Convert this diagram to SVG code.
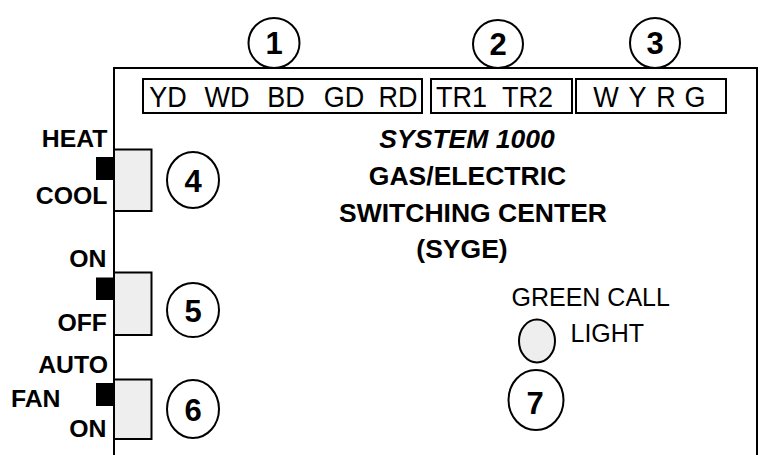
<svg xmlns="http://www.w3.org/2000/svg" width="760" height="455" viewBox="0 0 760 455">
<style>
.ln{fill:none;stroke:#000;stroke-width:2}
.box{fill:#fff;stroke:#000;stroke-width:2}
.sw{fill:#eeeeee;stroke:#000;stroke-width:2}
.num{fill:#fff;stroke:#000;stroke-width:2}
.t{font-family:"Liberation Sans",Arial,sans-serif;fill:#000}
.bt{font-size:27px}
.lbl{font-family:"Liberation Sans",Arial,sans-serif;font-weight:bold;font-size:24.8px;text-anchor:end}
.n{font-family:"Liberation Sans",Arial,sans-serif;font-weight:bold;font-size:31px;text-anchor:middle}
.ti{font-family:"Liberation Sans",Arial,sans-serif;font-weight:bold;font-size:26.5px;text-anchor:middle}
</style>
<rect width="760" height="455" fill="#fff"/>
<g id="frame">
<path class="ln" d="M114,455 V68 H757 V455"/>
</g>
<g id="connectors"></g>
<g id="terminal-strip-1">
<rect class="box" x="143" y="79" width="279" height="34"/>
<g transform="matrix(1,0,0,1.08,0,-8.56)">
<text class="t bt" x="168" y="107" text-anchor="middle">YD</text>
<text class="t bt" x="227" y="107" text-anchor="middle">WD</text>
<text class="t bt" x="286" y="107" text-anchor="middle">BD</text>
<text class="t bt" x="344" y="107" text-anchor="middle">GD</text>
<text class="t bt" x="398" y="107" text-anchor="middle">RD</text>
</g>
</g>
<g id="terminal-strip-2">
<rect class="box" x="431" y="79" width="141" height="34"/>
<g transform="matrix(1,0,0,1.08,0,-8.56)">
<text class="t bt" x="436" y="107">TR1</text>
<text class="t bt" x="553" y="107" text-anchor="end">TR2</text>
</g>
</g>
<g id="terminal-strip-3">
<rect class="box" x="576" y="79" width="150" height="34"/>
<g transform="matrix(1,0,0,1.08,0,-8.56)">
<text class="t bt" x="606" y="107" text-anchor="middle">W</text>
<text class="t bt" x="637.5" y="107" text-anchor="middle">Y</text>
<text class="t bt" x="666" y="107" text-anchor="middle">R</text>
<text class="t bt" x="695" y="107" text-anchor="middle">G</text>
</g>
</g>
<g id="callout-1">
<ellipse class="num" cx="274" cy="43" rx="25.5" ry="25"/>
<text class="n" x="274" y="54">1</text>
</g>
<g id="callout-2">
<ellipse class="num" cx="498" cy="44" rx="25" ry="24"/>
<text class="n" x="498" y="55">2</text>
</g>
<g id="callout-3">
<ellipse class="num" cx="655" cy="43" rx="25" ry="25"/>
<text class="n" x="655" y="54">3</text>
</g>
<g id="title">
<text class="ti" x="467" y="148" font-style="italic">SYSTEM 1000</text>
<text class="ti" x="467.5" y="185">GAS/ELECTRIC</text>
<text class="ti" x="473" y="221.5" font-size="27.3">SWITCHING CENTER</text>
<text class="ti" x="462" y="258">(SYGE)</text>
</g>
<g id="switch-heat-cool">
<text class="lbl" x="107.5" y="147">HEAT</text>
<text class="lbl" x="107.5" y="203.5">COOL</text>
<rect x="96" y="157" width="17" height="23" fill="#000"/>
<rect class="sw" x="114" y="149.5" width="37.5" height="61.5"/>
</g>
<g id="callout-4">
<ellipse class="num" cx="193" cy="180" rx="26" ry="28"/>
<text class="n" x="193" y="191.5">4</text>
</g>
<g id="switch-on-off">
<text class="lbl" x="106.5" y="267">ON</text>
<text class="lbl" x="107" y="331">OFF</text>
<rect x="96" y="277.5" width="17" height="22.5" fill="#000"/>
<rect class="sw" x="114" y="272.5" width="37.5" height="62.5"/>
</g>
<g id="callout-5">
<ellipse class="num" cx="193" cy="310" rx="26" ry="27"/>
<text class="n" x="193" y="321.5">5</text>
</g>
<g id="switch-fan">
<text class="lbl" x="108" y="373">AUTO</text>
<text class="lbl" x="60.5" y="407">FAN</text>
<text class="lbl" x="106.5" y="437">ON</text>
<rect x="96" y="383" width="17" height="23" fill="#000"/>
<rect class="sw" x="114" y="379.5" width="37.5" height="59.5"/>
</g>
<g id="callout-6">
<ellipse class="num" cx="193" cy="409" rx="26" ry="29"/>
<text class="n" x="193" y="420.5">6</text>
</g>
<g id="green-call-light">
<text class="t" x="511.5" y="306" font-size="25">GREEN CALL</text>
<ellipse class="sw" cx="537" cy="341" rx="18" ry="21.5"/>
<text class="t" x="570.5" y="341.5" font-size="25">LIGHT</text>
</g>
<g id="callout-7">
<ellipse class="num" cx="536" cy="400" rx="27.5" ry="30"/>
<text class="n" x="535" y="414">7</text>
</g>
</svg>
